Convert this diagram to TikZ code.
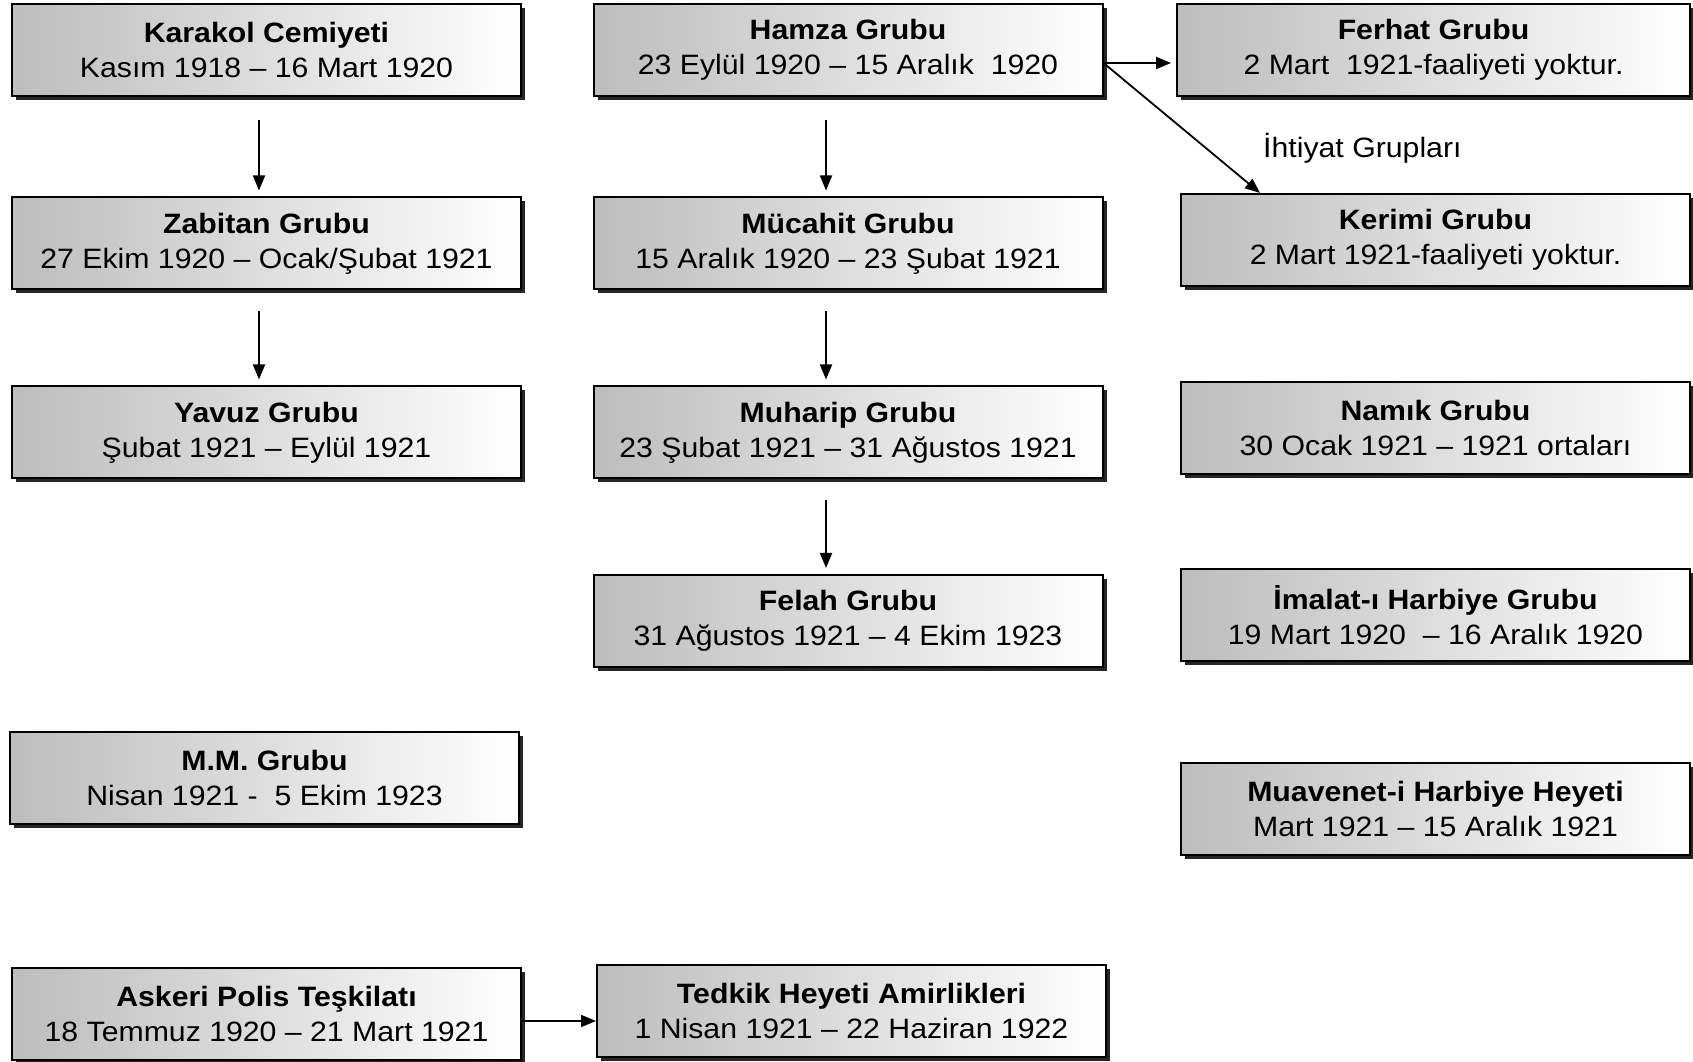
\documentclass[tikz,border=0pt]{standalone}
\usepackage{fontspec}
\setmainfont[FakeStretch=1.08]{Liberation Sans}
\usetikzlibrary{arrows.meta,shadows}
\tikzset{
  box/.style={draw=black, line width=2pt, minimum width=509pt, minimum height=92pt,
    align=center, inner sep=2pt,
    left color=black!26, right color=white,
    drop shadow={shadow xshift=4pt, shadow yshift=-4pt, fill=black!85, opacity=1},
    font=\fontsize{28pt}{35pt}\selectfont,
    execute at begin node={\rule{0pt}{31pt}}},
  conn/.style={line width=1.8pt, -{Triangle[length=15pt,width=12pt]}},
  lbl/.style={font=\fontsize{28pt}{35pt}\selectfont, inner sep=0pt}
}
\begin{document}
\begin{tikzpicture}[x=1pt,y=1pt]
\useasboundingbox[fill=white] (0,0) rectangle (1693,1061);
% column 1
\node[box] (karakol) at (266.5,1011) {\textbf{Karakol Cemiyeti}\\Kasım 1918 – 16 Mart 1920};
\node[box] (zabitan) at (266.5,817.5) {\textbf{Zabitan Grubu}\\27 Ekim 1920 – Ocak/Şubat 1921};
\node[box] (yavuz) at (266.5,628.5) {\textbf{Yavuz Grubu}\\Şubat 1921 – Eylül 1921};
\node[box] (mm) at (264.5,283.5) {\textbf{M.M. Grubu}\\Nisan 1921 -\ \ 5 Ekim 1923};
\node[box] (askeri) at (266.5,47.5) {\textbf{Askeri Polis Teşkilatı}\\18 Temmuz 1920 – 21 Mart 1921};
% column 2
\node[box] (hamza) at (848,1011) {\textbf{Hamza Grubu}\\23 Eylül 1920 – 15 Aralık\ \ 1920};
\node[box] (mucahit) at (848,817.5) {\textbf{Mücahit Grubu}\\15 Aralık 1920 – 23 Şubat 1921};
\node[box] (muharip) at (848,628.5) {\textbf{Muharip Grubu}\\23 Şubat 1921 – 31 Ağustos 1921};
\node[box] (felah) at (848,440) {\textbf{Felah Grubu}\\31 Ağustos 1921 – 4 Ekim 1923};
\node[box] (tedkik) at (851.5,50.5) {\textbf{Tedkik Heyeti Amirlikleri}\\1 Nisan 1921 – 22 Haziran 1922};
% column 3
\node[box, minimum width=513pt] (ferhat) at (1433.5,1011) {\textbf{Ferhat Grubu}\\2 Mart\ \ 1921-faaliyeti yoktur.};
\node[box] (kerimi) at (1435.5,821) {\textbf{Kerimi Grubu}\\2 Mart 1921-faaliyeti yoktur.};
\node[box] (namik) at (1435.5,633) {\textbf{Namık Grubu}\\30 Ocak 1921 – 1921 ortaları};
\node[box] (imalat) at (1435.5,446) {\textbf{İmalat-ı Harbiye Grubu}\\19 Mart 1920\ \ – 16 Aralık 1920};
\node[box] (muavenet) at (1435.5,252) {\textbf{Muavenet-i Harbiye Heyeti}\\Mart 1921 – 15 Aralık 1921};
% label
\node[lbl, anchor=west] (ihtiyat) at (1263,913) {İhtiyat Grupları};
% connectors
\draw[conn, shorten <=23pt, shorten >=6pt] ([xshift=-7.5pt]karakol.south) -- ([xshift=-7.5pt]zabitan.north);
\draw[conn, shorten <=21pt, shorten >=6pt] ([xshift=-7.5pt]zabitan.south) -- ([xshift=-7.5pt]yavuz.north);
\draw[conn, shorten <=23pt, shorten >=6pt] ([xshift=-22pt]hamza.south) -- ([xshift=-22pt]mucahit.north);
\draw[conn, shorten <=21pt, shorten >=6pt] ([xshift=-22pt]mucahit.south) -- ([xshift=-22pt]muharip.north);
\draw[conn, shorten <=21pt, shorten >=6pt] ([xshift=-22pt]muharip.south) -- ([xshift=-22pt]felah.north);
\draw[conn, shorten >=5pt] ([yshift=-13pt]hamza.east) -- ([yshift=-13pt]ferhat.west);
\draw[conn] ([yshift=-13pt]hamza.east) -- ([xshift=80pt]kerimi.north west);
\draw[conn] ([yshift=-7.5pt]askeri.east) -- ([yshift=-10.5pt]tedkik.west);
\end{tikzpicture}
\end{document}
